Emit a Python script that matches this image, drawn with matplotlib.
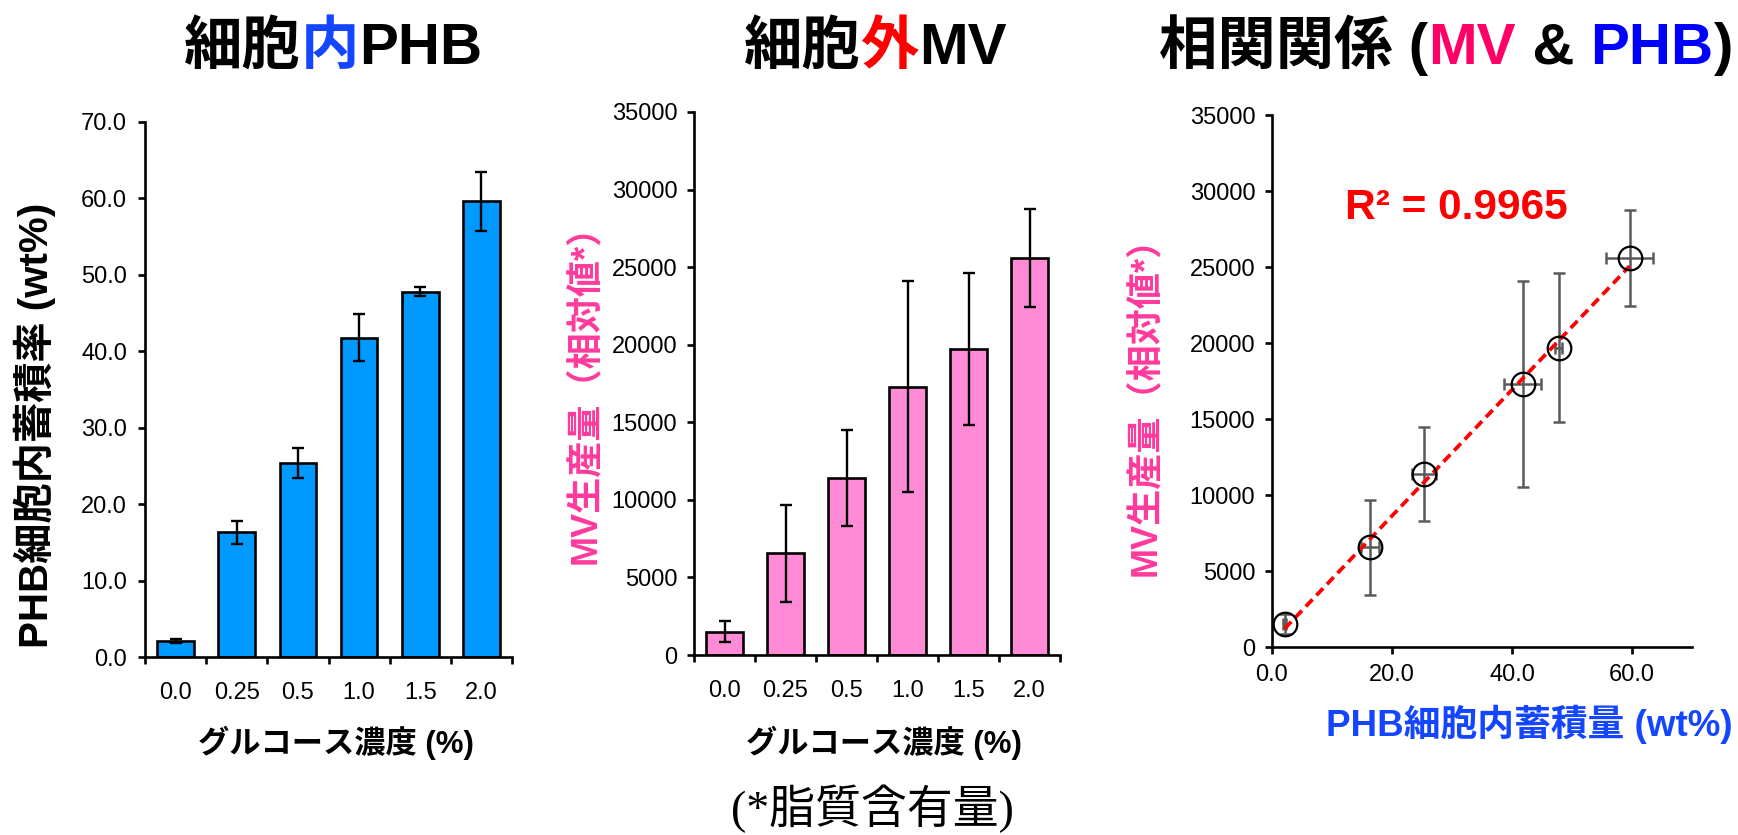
import numpy as np
import matplotlib
matplotlib.use("Agg")
import matplotlib.pyplot as plt

# ---- data -------------------------------------------------------------
glucose_labels = ['0.0', '0.25', '0.5', '1.0', '1.5', '2.0']
phb_mean = [2.1, 16.3, 25.4, 41.8, 47.8, 59.6]
phb_err = [0.25, 1.5, 2.0, 3.1, 0.6, 3.9]
mv_mean = [1500, 6550, 11400, 17300, 19700, 25600]
mv_err = [660, 3150, 3100, 6800, 4900, 3170]

phb_yticks = [0, 10, 20, 30, 40, 50, 60, 70]
mv_yticks = [0, 5000, 10000, 15000, 20000, 25000, 30000, 35000]
corr_xticks = [0, 20, 40, 60]
r2_label = 'R² = 0.9965'

# ---- style ------------------------------------------------------------
W, H = 1738, 835
LATIN = 'Liberation Sans'
CJK = 'Noto Sans CJK JP'
FAM = [LATIN, CJK]
plt.rcParams['font.family'] = FAM

BLUE_BAR = '#0099FF'
PINK_BAR = '#FF8AD6'
PINK_TXT = '#FF3A9C'
BLUE_TXT = '#1446FF'
SPINE_W = 1.9
TICK_FS = 17

fig = plt.figure(figsize=(W / 100, H / 100), dpi=100)


def px_axes(left, top, right, bottom):
    return fig.add_axes([left / W, 1 - bottom / H, (right - left) / W, (bottom - top) / H])


def style_axes(ax):
    for s in ('top', 'right'):
        ax.spines[s].set_visible(False)
    for s in ('left', 'bottom'):
        ax.spines[s].set_linewidth(SPINE_W)
    ax.tick_params(which='major', direction='out', length=5, width=SPINE_W,
                   labelsize=TICK_FS, colors='black')


def category_axis(ax):
    n = len(glucose_labels)
    ax.set_xlim(0, n)
    ax.set_xticks(np.arange(n + 1))
    ax.set_xticklabels([''] * (n + 1))
    ax.set_xticks(np.arange(n) + 0.5, minor=True)
    ax.set_xticklabels(glucose_labels, minor=True)
    ax.tick_params(axis='x', which='minor', length=0, pad=18, labelsize=TICK_FS)


x_pos = np.arange(len(glucose_labels)) + 0.5
err_kw = dict(ecolor='black', elinewidth=1.7, capsize=4.5, capthick=1.7)

# ---- panel 1: intracellular PHB --------------------------------------
ax1 = px_axes(145, 122, 512, 657)
style_axes(ax1)
ax1.bar(x_pos, phb_mean, width=0.6, color=BLUE_BAR, edgecolor='black',
        linewidth=1.9, yerr=phb_err, error_kw=err_kw, zorder=2)
category_axis(ax1)
ax1.set_ylim(0, 70)
ax1.set_yticks(phb_yticks)
ax1.set_yticklabels([f'{v:.1f}' for v in phb_yticks])
ax1.tick_params(axis='y', pad=8)

# ---- panel 2: extracellular MV ---------------------------------------
ax2 = px_axes(694, 112, 1060, 655)
style_axes(ax2)
ax2.bar(x_pos, mv_mean, width=0.6, color=PINK_BAR, edgecolor='black',
        linewidth=1.9, yerr=mv_err, error_kw=err_kw, zorder=2)
category_axis(ax2)
ax2.set_ylim(0, 35000)
ax2.set_yticks(mv_yticks)
ax2.set_yticklabels([str(v) for v in mv_yticks])
ax2.tick_params(axis='y', pad=7)

# ---- panel 3: correlation --------------------------------------------
ax3 = px_axes(1272, 115, 1692, 647)
style_axes(ax3)
ax3.set_xlim(0, 70)
ax3.set_ylim(0, 35000)
ax3.set_xticks(corr_xticks)
ax3.set_xticklabels([f'{v:.1f}' for v in corr_xticks])
ax3.set_yticks(mv_yticks)
ax3.set_yticklabels([str(v) for v in mv_yticks])
ax3.tick_params(axis='x', pad=7)
ax3.tick_params(axis='y', pad=7)

slope, intercept = np.polyfit(phb_mean, mv_mean, 1)
fit_x = np.array([min(phb_mean), max(phb_mean)])
ax3.plot(fit_x, slope * fit_x + intercept, color='#FF0000', lw=2.7,
         dashes=(2.6, 1.5), zorder=3)
ax3.errorbar(phb_mean, mv_mean, xerr=phb_err, yerr=mv_err, fmt='none',
             ecolor='#5A5A5A', elinewidth=1.8, capsize=4.5, capthick=1.8, zorder=2)
ax3.plot(phb_mean, mv_mean, 'o', ms=17, mfc='none', mec='black', mew=1.6,
         zorder=4)

# ---- labels -----------------------------------------------------------
lab_kw = dict(fontsize=22.5, fontweight='bold', ha='center', va='center')
fig.text(336 / W, 1 - 743 / H, 'グルコース濃度 (%)', color='black', **lab_kw)
fig.text(884 / W, 1 - 743 / H, 'グルコース濃度 (%)', color='black', **lab_kw)
fig.text(1529 / W, 1 - 724 / H, 'PHB細胞内蓄積量 (wt%)', color=BLUE_TXT,
         fontsize=26.5, fontweight='bold', ha='center', va='center')

ylab_kw = dict(fontweight='bold', ha='center', va='center', rotation=90)
fig.text(35 / W, 1 - 425 / H, 'PHB細胞内蓄積率 (wt%)', color='black',
         fontsize=29, **ylab_kw)
fig.text(586 / W, 1 - 385 / H, 'MV生産量（相対値*）', color=PINK_TXT,
         fontsize=26, **ylab_kw)
fig.text(1146 / W, 1 - 397 / H, 'MV生産量（相対値*）', color=PINK_TXT,
         fontsize=26, **ylab_kw)

fig.text(1456 / W, 1 - 208 / H, r2_label, color='#FF0000', fontsize=30.5,
         fontweight='bold', ha='center', va='center')

fig.text(872 / W, 1 - 809 / H, '(*脂質含有量)', color='black', fontsize=33,
         family=['Liberation Serif', CJK], ha='center', va='center')


# ---- multi-coloured titles -------------------------------------------
def colored_title(cx, base_y, parts, size=42):
    renderer = fig.canvas.get_renderer()
    items = []
    for s, c in parts:
        t = fig.text(0, 1 - base_y / H, s, color=c, fontsize=size,
                     fontweight='bold', ha='left', va='baseline')
        items.append((t, t.get_window_extent(renderer).width))
    total = sum(w for _, w in items)
    x = cx - total / 2
    for t, w in items:
        t.set_x(x / W)
        x += w


colored_title(333, 64, [('細胞', 'black'), ('内', BLUE_TXT), ('PHB', 'black')])
colored_title(875, 64, [('細胞', 'black'), ('外', '#FF0000'), ('MV', 'black')])
colored_title(1446, 64, [('相関関係 (', 'black'), ('MV', '#FF0066'),
                         (' & ', 'black'), ('PHB', '#0000FF'), (')', 'black')])

fig.savefig('out.png', dpi=100)
